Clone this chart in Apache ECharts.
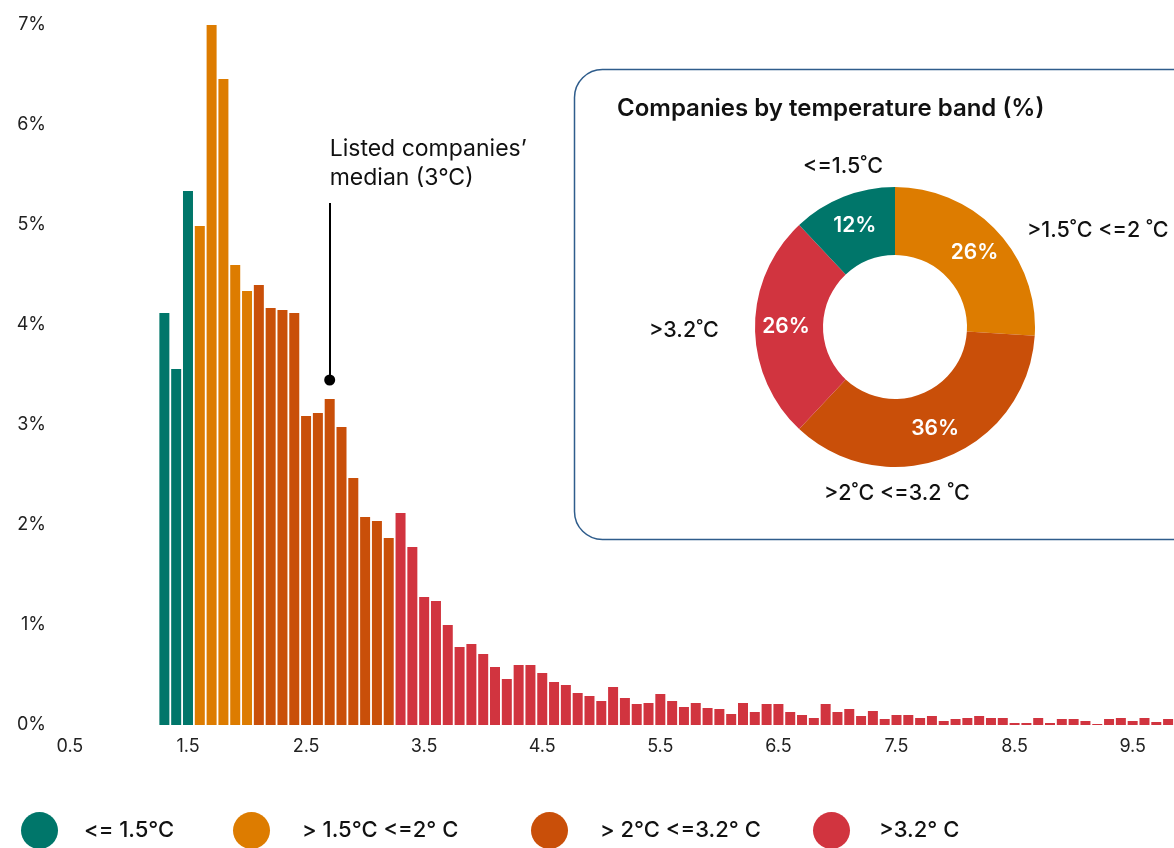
<!DOCTYPE html>
<html>
<head>
<meta charset="utf-8">
<script src="https://cdn.jsdelivr.net/npm/echarts@6/dist/echarts.min.js"></script>
<style>
  html, body { margin: 0; padding: 0; background: #fff; }
  #chart { width: 1174px; height: 848px; }
</style>
</head>
<body>
<div id="chart"></div>
<script>
// x-axis categories (temperature bins, °C)
const categories = ['0.5','0.6','0.7','0.8','0.9','1.0','1.1','1.2','1.3','1.4',
  '1.5','1.6','1.7','1.8','1.9','2.0','2.1','2.2','2.3','2.4',
  '2.5','2.6','2.7','2.8','2.9','3.0','3.1','3.2','3.3','3.4',
  '3.5','3.6','3.7','3.8','3.9','4.0','4.1','4.2','4.3','4.4',
  '4.5','4.6','4.7','4.8','4.9','5.0','5.1','5.2','5.3','5.4',
  '5.5','5.6','5.7','5.8','5.9','6.0','6.1','6.2','6.3','6.4',
  '6.5','6.6','6.7','6.8','6.9','7.0','7.1','7.2','7.3','7.4',
  '7.5','7.6','7.7','7.8','7.9','8.0','8.1','8.2','8.3','8.4',
  '8.5','8.6','8.7','8.8','8.9','9.0','9.1','9.2','9.3','9.4',
  '9.5','9.6','9.7','9.8'];
// share of companies (%) per bin; null = no companies
const shares = [null,null,null,null,null,null,null,null,4.12,3.56,
  5.34,4.99,7.00,6.46,4.60,4.34,4.40,4.17,4.15,4.12,
  3.09,3.12,3.26,2.98,2.47,2.08,2.04,1.87,2.12,1.78,
  1.28,1.24,1.00,0.78,0.81,0.71,0.58,0.46,0.60,0.60,
  0.52,0.43,0.40,0.32,0.29,0.24,0.38,0.27,0.21,0.22,
  0.31,0.24,0.18,0.22,0.17,0.16,0.11,0.22,0.13,0.21,
  0.21,0.13,0.10,0.07,0.21,0.13,0.16,0.09,0.14,0.06,
  0.10,0.10,0.07,0.09,0.04,0.06,0.07,0.09,0.07,0.07,
  0.02,0.02,0.07,0.02,0.06,0.06,0.04,0.01,0.06,0.07,
  0.04,0.07,0.03,0.06];
// temperature bands
const bandNames = ['<= 1.5°C', '> 1.5°C <=2° C', '> 2°C <=3.2° C', '>3.2° C'];
const bandUpper = [1.5, 2.0, 3.2, Infinity];
const bandColors = ['#00766A', '#DD7C00', '#C94F09', '#D1343F'];
// donut: companies by temperature band (%)
const donutNames = ['>1.5˚C <=2 ˚C', '>2˚C <=3.2 ˚C', '>3.2˚C', '<=1.5˚C'];
const donutValues = [26, 36, 26, 12];
const donutColors = ['#DD7C00', '#C94F09', '#D1343F', '#00766A'];
// median annotation
const medianBin = '2.7';
const medianText = 'Listed companies\u2019\nmedian (3°C)';

const FONT = 'Inter, "Noto Sans", sans-serif';

function bandOf(t) {
  for (let i = 0; i < bandUpper.length; i++) if (t <= bandUpper[i] + 1e-9) return i;
  return bandUpper.length - 1;
}

const barSeries = bandNames.map((name, b) => ({
  name: name,
  type: 'bar',
  barWidth: 10,
  barGap: '-100%',
  itemStyle: { color: bandColors[b] },
  emphasis: { disabled: true },
  data: shares.map((v, i) => (v != null && bandOf(parseFloat(categories[i])) === b) ? v : null)
}));

barSeries[2].markLine = {
  silent: true,
  animation: false,
  symbol: ['circle', 'none'],
  symbolSize: 11,
  lineStyle: { color: '#000', width: 2, type: 'solid' },
  label: {
    show: true,
    position: 'end',
    formatter: medianText,
    align: 'left',
    distance: 10,
    fontSize: 23,
    lineHeight: 29,
    color: '#111',
    fontFamily: FONT
  },
  data: [[{ coord: [medianBin, 3.45] }, { coord: [medianBin, 5.22] }]]
};

const legendLefts = [21, 233, 531, 813];
const legendTextGap = [21, 27, 27, 24];
const legends = bandNames.map((n, i) => ({
  data: [{ name: n, icon: 'circle' }],
  left: legendLefts[i],
  top: 812,
  padding: 0,
  itemWidth: 37,
  itemHeight: 37,
  selectedMode: false,
  textStyle: { fontSize: 22, fontWeight: 500, color: '#111', fontFamily: FONT, padding: [0, 0, 0, legendTextGap[i]] }
}));

const donutLabelPos = [
  { x: 1027, y: 231, align: 'left' },
  { x: 824, y: 494, align: 'left' },
  { x: 649, y: 331, align: 'left' },
  { x: 843, y: 167, align: 'center' }
];

const graphics = [
  {
    type: 'rect', z: 0, silent: true,
    shape: { x: 574.5, y: 69.5, width: 660, height: 470, r: 28 },
    style: { fill: '#fff', stroke: '#2F5D8C', lineWidth: 1.5 }
  },
  {
    type: 'text', z: 1, silent: true, left: 617, top: 97,
    style: { text: 'Companies by temperature band (%)', fontSize: 24, fontWeight: 600, fill: '#111', fontFamily: FONT }
  }
].concat(donutNames.map((n, i) => ({
  type: 'text', z: 5, silent: true,
  x: donutLabelPos[i].x, y: donutLabelPos[i].y,
  style: { text: n, fontSize: 21.5, fontWeight: 500, fill: '#111', fontFamily: FONT,
           textAlign: donutLabelPos[i].align, textVerticalAlign: 'middle' }
})));

const chart = echarts.init(document.getElementById('chart'), null, { renderer: 'canvas' });
chart.setOption({
  animation: false,
  backgroundColor: '#fff',
  textStyle: { fontFamily: FONT },
  grid: { left: 64, top: 25, width: 1114, height: 700 },
  xAxis: {
    type: 'category',
    data: categories,
    axisLine: { show: false },
    axisTick: { show: false },
    axisLabel: { interval: 9, fontSize: 18, color: '#222', margin: 13, fontFamily: FONT }
  },
  yAxis: {
    type: 'value',
    min: 0, max: 7, interval: 1,
    splitLine: { show: false },
    axisLine: { show: false },
    axisTick: { show: false },
    axisLabel: { formatter: '{value}%', fontSize: 18, color: '#222', margin: 18, fontFamily: FONT }
  },
  legend: legends,
  graphic: graphics,
  series: barSeries.concat([{
    type: 'pie',
    z: 3,
    center: [895, 327],
    radius: [72, 140],
    startAngle: 90,
    clockwise: true,
    silent: true,
    label: {
      show: true, position: 'inside', formatter: '{c}%',
      color: '#fff', fontSize: 21, fontWeight: 600, fontFamily: FONT
    },
    labelLine: { show: false },
    itemStyle: { borderWidth: 0 },
    data: donutNames.map((n, i) => ({ name: n, value: donutValues[i], itemStyle: { color: donutColors[i] } }))
  }])
});
</script>
</body>
</html>
